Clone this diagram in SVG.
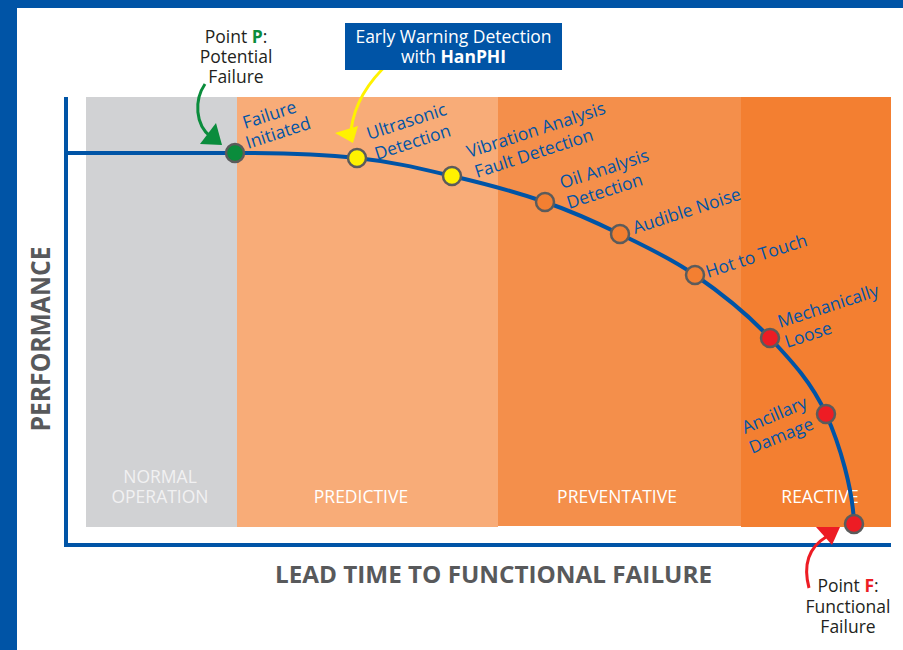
<svg xmlns="http://www.w3.org/2000/svg" width="903" height="650" viewBox="0 0 903 650">
<style>
.lbl{font-family:"Open Sans","Liberation Sans",sans-serif;font-size:17.5px;fill:#0054A6}
.band{font-family:"Open Sans","Liberation Sans",sans-serif;font-size:17.5px;fill:#FFFFFF;text-anchor:middle}
.dark{font-family:"Open Sans","Liberation Sans",sans-serif;font-size:17.5px;fill:#231F20;text-anchor:middle}
.axis{font-family:"Open Sans","Liberation Sans",sans-serif;font-weight:bold;fill:#58595B;text-anchor:middle}
.node{stroke:#5B5B5B;stroke-width:2.5}
</style>
<rect x="0" y="0" width="903" height="650" fill="#FFFFFF"/>
<g id="frame">
<rect x="0" y="0" width="17" height="650" fill="#0054A6"/>
<rect x="0" y="0" width="903" height="8" fill="#0054A6"/>
</g>
<g id="bands">
<rect x="86" y="97" width="151" height="430" fill="#D1D2D4"/>
<rect x="237" y="97" width="261" height="430" fill="#F8AC78"/>
<rect x="498" y="97" width="243" height="429" fill="#F48F4B"/>
<rect x="741" y="97" width="150" height="430" fill="#F37F31"/>
<text class="band" x="160" y="483" style="fill:#F1F1F2">NORMAL</text>
<text class="band" x="160" y="503" style="fill:#F1F1F2">OPERATION</text>
<text class="band" x="361" y="503">PREDICTIVE</text>
<text class="band" x="617" y="503">PREVENTATIVE</text>
<text class="band" x="820" y="503">REACTIVE</text>
</g>
<g id="axes">
<line x1="66" y1="97" x2="66" y2="547" stroke="#0054A6" stroke-width="4"/>
<line x1="64" y1="545" x2="891" y2="545" stroke="#0054A6" stroke-width="4"/>
<text class="axis" font-size="26" transform="translate(50,339) rotate(-90)" textLength="185" lengthAdjust="spacingAndGlyphs">PERFORMANCE</text>
<text class="axis" font-size="23" x="493.5" y="583" textLength="437" lengthAdjust="spacingAndGlyphs">LEAD TIME TO FUNCTIONAL FAILURE</text>
</g>
<g id="connectors">
<path d="M66,153 L235,153 C280,153 320.8,154.2 357,158 C393.2,161.8 420.7,168.7 452,176 C483.3,183.3 517,192.3 545,202 C573,211.7 595,221.8 620,234 C645,246.2 670,257.7 695,275 C720,292.3 748.2,314.8 770,338 C791.8,361.2 812,383 826,414 C840,445 853,490 854,524" fill="none" stroke="#0054A6" stroke-width="4"/>
<path d="M205,84 C194,100 195,125 211,137" fill="none" stroke="#0A8C3C" stroke-width="3"/>
<polygon points="200,144 216,123 222,145" fill="#0A8C3C"/>
<path d="M390,62 C372,78 355,100 351,130" fill="none" stroke="#FFF200" stroke-width="3"/>
<polygon points="335,133 358,126 353,143" fill="#FFF200"/>
<path d="M809,588 C803,565 808,548 826,537" fill="none" stroke="#ED1C24" stroke-width="3"/>
<polygon points="816,527 832,545 840,527" fill="#ED1C24"/>
</g>
<g id="node-p">
<circle class="node" cx="235" cy="153" r="9" fill="#0A8C3C"/>
<text class="lbl" transform="translate(245,129) rotate(-18)">Failure</text>
<text class="lbl" transform="translate(248,149) rotate(-18)">Initiated</text>
</g>
<g id="node-ultrasonic">
<circle class="node" cx="357" cy="158" r="9" fill="#FFF200"/>
<text class="lbl" transform="translate(369,140) rotate(-18)">Ultrasonic</text>
<text class="lbl" transform="translate(377,160) rotate(-18)">Detection</text>
</g>
<g id="node-vibration">
<circle class="node" cx="452" cy="176" r="9" fill="#FFF200"/>
<text class="lbl" transform="translate(469,158) rotate(-18)">Vibration Analysis</text>
<text class="lbl" transform="translate(477,178) rotate(-18)">Fault Detection</text>
</g>
<g id="node-oil">
<circle class="node" cx="545" cy="202" r="9" fill="#F37F31"/>
<text class="lbl" transform="translate(562,189) rotate(-18)">Oil Analysis</text>
<text class="lbl" transform="translate(569,209) rotate(-18)">Detection</text>
</g>
<g id="node-audible">
<circle class="node" cx="620" cy="234" r="9" fill="#F37F31"/>
<text class="lbl" transform="translate(635,234) rotate(-18)">Audible Noise</text>
</g>
<g id="node-hot">
<circle class="node" cx="695" cy="275" r="9" fill="#F37F31"/>
<text class="lbl" transform="translate(708,278) rotate(-18)">Hot to Touch</text>
</g>
<g id="node-mech">
<circle class="node" cx="770" cy="338" r="9" fill="#ED1C24"/>
<text class="lbl" transform="translate(780,328) rotate(-18)">Mechanically</text>
<text class="lbl" transform="translate(787,348) rotate(-18)">Loose</text>
</g>
<g id="node-ancillary">
<circle class="node" cx="826" cy="414" r="9" fill="#ED1C24"/>
<text class="lbl" transform="translate(745,434) rotate(-23)">Ancillary</text>
<text class="lbl" transform="translate(752,454) rotate(-22)">Damage</text>
</g>
<g id="node-f">
<circle class="node" cx="854" cy="524" r="9" fill="#ED1C24"/>
</g>
<g id="label-p">
<text class="dark" x="236" y="43">Point <tspan font-weight="bold" fill="#0A8C3C">P</tspan>:</text>
<text class="dark" x="236" y="63">Potential</text>
<text class="dark" x="236" y="83">Failure</text>
</g>
<g id="label-f">
<text class="dark" x="848" y="592">Point <tspan font-weight="bold" fill="#ED1C24">F</tspan>:</text>
<text class="dark" x="848" y="613">Functional</text>
<text class="dark" x="848" y="633">Failure</text>
</g>
<g id="hanphi">
<rect x="345" y="23" width="217" height="47" fill="#0054A6"/>
<text class="band" x="453.5" y="43">Early Warning Detection</text>
<text class="band" x="453.5" y="63">with <tspan font-weight="bold">HanPHI</tspan></text>
</g>
</svg>
